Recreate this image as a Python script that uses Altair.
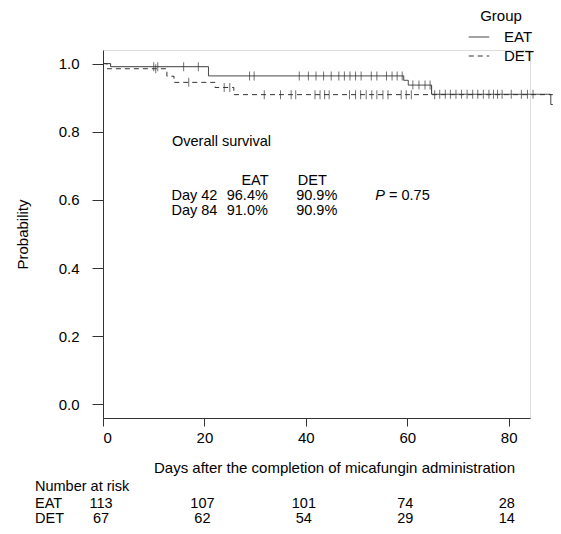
import altair as alt
import pandas as pd

# ---- data ----
eat_t = [0, 1.5, 20.8, 59.3, 60.2, 64.8, 88.3, 88.7]
eat_s = [1.0, 0.991, 0.964, 0.951, 0.937, 0.910, 0.880, 0.880]
det_t = [0, 0.8, 12.6, 14.0, 22.1, 25.8, 88.7]
det_s = [1.0, 0.985, 0.963, 0.945, 0.930, 0.909, 0.909]

eat_cens = [10.0, 10.8, 15.9, 18.8, 28.9, 29.8, 38.7, 40.5, 42.0, 43.5, 45.0,
            46.5, 47.6, 48.7, 49.8, 50.9, 52.9, 54.0, 55.9, 57.0, 58.0, 59.0,
            61.1, 62.3, 63.5, 64.5,
            66.4, 67.5, 68.5, 69.6, 70.7, 71.8, 72.9, 73.9, 75.0, 76.1, 77.0,
            77.8, 78.7, 80.5, 82.5, 83.7, 84.8]
det_cens = [10.4, 16.9, 23.9, 25.0, 31.8, 35.0, 37.1, 38.0, 41.8, 42.8, 43.7,
            44.6, 48.6, 49.8, 50.8, 51.9, 53.0, 54.0, 55.2, 56.2, 58.8, 59.8,
            60.8, 65.4]

risk_days = [0, 20, 40, 60, 80]
eat_risk = [113, 107, 101, 74, 28]
det_risk = [67, 62, 54, 29, 14]

x_ticks = [0, 20, 40, 60, 80]
y_ticks = [0.0, 0.2, 0.4, 0.6, 0.8, 1.0]

ann_text = ["Overall survival", "EAT", "DET", "Day 42", "96.4%", "90.9%",
            "Day 84", "91.0%", "90.9%", "= 0.75"]
ann_x = [13.6, 27.3, 38.4, 13.5, 24.4, 38.1, 13.5, 24.4, 38.1, 56.4]
ann_y = [0.757, 0.645, 0.645, 0.601, 0.601, 0.601, 0.557, 0.557, 0.557, 0.601]
p_label = ["P"]
p_x = [53.7]
p_y = [0.601]

FONT = "Liberation Sans"
INK = "#333"


def surv(ts, ss, t):
    v = ss[0]
    for ti, si in zip(ts, ss):
        if ti <= t:
            v = si
    return v


curves = pd.DataFrame(
    {"t": eat_t + det_t,
     "s": eat_s + det_s,
     "group": ["EAT"] * len(eat_t) + ["DET"] * len(det_t)})
cens = pd.DataFrame(
    {"t": eat_cens + det_cens,
     "s": [surv(eat_t, eat_s, c) for c in eat_cens] + [surv(det_t, det_s, c) for c in det_cens]})
ann = pd.DataFrame({"t": ann_x, "s": ann_y, "label": ann_text})
pann = pd.DataFrame({"t": p_x, "s": p_y, "label": p_label})
risk = pd.DataFrame({"t": risk_days * 2,
                     "n": [str(v) for v in eat_risk + det_risk],
                     "row": ["EAT"] * 5 + ["DET"] * 5})

xs = alt.Scale(domain=[0, 84.2], nice=False, zero=False)
ys = alt.Scale(domain=[-0.04, 1.04], nice=False, zero=False)
x_axis = alt.Axis(values=x_ticks, grid=False, tickSize=8, labelPadding=4,
                  title="Days after the completion of micafungin administration",
                  titleX=231, titleY=54, titleAlign="center", titleBaseline="alphabetic")
y_axis = alt.Axis(values=y_ticks, format=".1f", grid=False, tickSize=11, labelPadding=13,
                  title="Probability", titleX=-73, titleY=184)

X = alt.X("t:Q", scale=xs, axis=x_axis)
Y = alt.Y("s:Q", scale=ys, axis=y_axis)

lines = alt.Chart(curves).mark_line(
    interpolate="step-after", color=INK, strokeWidth=1, clip=False
).encode(
    x=X, y=Y,
    strokeDash=alt.StrokeDash(
        "group:N",
        scale=alt.Scale(domain=["EAT", "DET"], range=[[1, 0], [5, 4]]),
        legend=alt.Legend(title="Group", orient="none", legendX=365, legendY=-41,
                          symbolType="stroke", symbolSize=420, symbolStrokeWidth=1,
                          symbolStrokeColor=INK, labelFontSize=15, titleFontSize=15,
                          titleFontWeight="normal", titleAnchor="middle", labelOffset=14,
                          rowPadding=0, padding=0, titlePadding=2,
                          labelColor="#000", titleColor="#000")),
)

ticks = alt.Chart(cens).mark_tick(orient="vertical", size=9, thickness=1, color=INK,
                                  clip=False).encode(x=X, y=Y)

texts = alt.Chart(ann).mark_text(align="left", baseline="alphabetic", fontSize=14.5,
                                 color="#000").encode(x=X, y=Y, text="label:N")
ptext = alt.Chart(pann).mark_text(align="left", baseline="alphabetic", fontSize=14.5,
                                  fontStyle="italic", color="#000").encode(x=X, y=Y, text="label:N")

risk_eat = alt.Chart(risk[risk.row == "EAT"]).mark_text(
    align="center", baseline="alphabetic", fontSize=14.5, color="#000", dx=-2
).encode(x=X, y=alt.value(458), text="n:N")
risk_det = alt.Chart(risk[risk.row == "DET"]).mark_text(
    align="center", baseline="alphabetic", fontSize=14.5, color="#000", dx=-2
).encode(x=X, y=alt.value(473), text="n:N")

row_labels = pd.DataFrame({"label": ["Number at risk", "EAT", "DET"],
                           "yy": [441, 458, 473]})
rows = alt.Chart(row_labels).mark_text(
    align="left", baseline="alphabetic", fontSize=14.5, color="#000"
).encode(x=alt.value(-68), y=alt.Y("yy:Q", scale=None), text="label:N")

chart = alt.layer(lines, ticks, texts, ptext, risk_eat, risk_det, rows).properties(
    width=427, height=368,
    autosize=alt.AutoSizeParams(type="none"),
    padding={"left": 95, "top": 42, "right": 23, "bottom": 108},
).configure_view(stroke=None).configure(font=FONT).configure_axis(
    labelFontSize=15, titleFontSize=15, titleFontWeight="normal",
    domainColor="#333", tickColor="#333", labelColor="#000", titleColor="#000",
    labelFont=FONT, titleFont=FONT,
).configure_legend(labelFont=FONT, titleFont=FONT)

chart.save("out.html", embed_options={"renderer": "svg", "actions": False})
